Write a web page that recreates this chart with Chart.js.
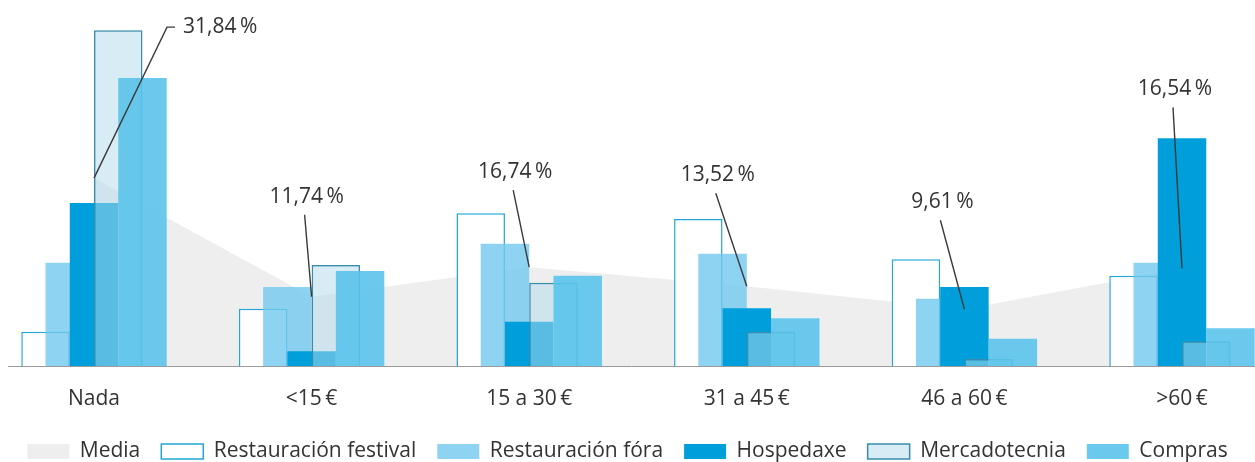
<!DOCTYPE html>
<html lang="gl">
<head>
<meta charset="utf-8">
<title>Gasto por categoría</title>
<script src="https://cdn.jsdelivr.net/npm/chart.js@4.4.0/dist/chart.umd.min.js"></script>
<style>
  html, body { margin: 0; padding: 0; background: #fff; }
  #wrap { position: relative; width: 1255px; height: 462px; }
</style>
</head>
<body>
<div id="wrap"><canvas id="gasto"></canvas></div>
<script>
"use strict";

// categories
const categories = ["Nada", "<15\u2009€", "15 a 30\u2009€", "31 a 45\u2009€", "46 a 60\u2009€", ">60\u2009€"];

// series values (%)
const media = [31.84, 11.74, 16.74, 13.52, 9.61, 16.54];
const restauracionFestival = [5.8, 9.7, 25.9, 24.9, 18.1, 15.3];
const restauracionFora = [17.5, 13.4, 20.7, 19.0, 11.4, 17.5];
const hospedaxe = [27.6, 2.5, 7.5, 9.8, 13.4, 38.6];
const mercadotecnia = [56.9, 17.1, 14.1, 5.8, 1.2, 4.2];
const compras = [48.8, 16.1, 15.3, 8.1, 4.6, 6.4];

// where each media label's leader line ends, relative to its point (px)
const labelOffsets = [[73, -151], [-7, -82], [-16, -77], [-31, -93], [-24, -89], [-9, -161]];

Chart.defaults.font.family = "'Open Sans', sans-serif";
Chart.defaults.color = "#333";

// draw the datasets in index order, so later series sit on top
const drawOrder = {
  id: "drawOrder",
  beforeDatasetsDraw(chart) {
    for (let i = 0; i < chart.data.datasets.length; i++) {
      const meta = chart.getDatasetMeta(i);
      if (meta.visible) meta.controller.draw();
    }
    return false;
  }
};

// baseline across the whole width + media labels with leader lines
const extras = {
  id: "extras",
  afterDraw(chart) {
    const ctx = chart.ctx;
    const xs = chart.scales.x;
    const ys = chart.scales.y;
    const y0 = Math.round(ys.getPixelForValue(0)) + 0.5;

    ctx.save();
    ctx.strokeStyle = "#9b9b9b";
    ctx.lineWidth = 1;
    ctx.beginPath();
    ctx.moveTo(8, y0);
    ctx.lineTo(chart.width, y0);
    ctx.stroke();

    ctx.strokeStyle = "#3a3a3a";
    ctx.lineWidth = 1.4;
    ctx.fillStyle = "#333";
    ctx.font = "21px 'Open Sans', sans-serif";
    ctx.textBaseline = "middle";
    media.forEach(function (v, i) {
      const px = xs.getPixelForValue(i);
      const py = ys.getPixelForValue(v);
      const ex = px + labelOffsets[i][0];
      const ey = py + labelOffsets[i][1];
      const text = v.toFixed(2).replace(".", ",") + "\u2009%";
      ctx.beginPath();
      ctx.moveTo(px, py);
      ctx.lineTo(ex, ey);
      if (i === 0) {
        ctx.lineTo(ex + 8, ey);
        ctx.stroke();
        ctx.textAlign = "left";
        ctx.fillText(text, ex + 16, ey);
      } else {
        ctx.stroke();
        ctx.textAlign = "center";
        ctx.fillText(text, ex + 2, ey - 18);
      }
    });
    ctx.restore();
  }
};

new Chart(document.getElementById("gasto"), {
  type: "bar",
  data: {
    labels: categories,
    datasets: [
      {
        type: "line",
        label: "Media",
        data: media,
        fill: "origin",
        backgroundColor: "#eeeeee",
        borderColor: "rgba(0,0,0,0)",
        borderWidth: 0,
        pointRadius: 0,
        tension: 0
      },
      {
        label: "Restauración festival",
        data: restauracionFestival,
        backgroundColor: "#ffffff",
        borderColor: "#23a6d5",
        borderWidth: 1.5
      },
      {
        label: "Restauración fóra",
        data: restauracionFora,
        backgroundColor: "rgba(114,200,238,0.8)"
      },
      {
        label: "Hospedaxe",
        data: hospedaxe,
        backgroundColor: "#009fdb"
      },
      {
        label: "Mercadotecnia",
        data: mercadotecnia,
        backgroundColor: "rgba(177,217,235,0.5)",
        borderColor: "#3a8cad",
        borderWidth: 1.5
      },
      {
        label: "Compras",
        data: compras,
        backgroundColor: "rgba(90,195,235,0.9)"
      }
    ]
  },
  options: {
    responsive: true,
    maintainAspectRatio: false,
    animation: false,
    layout: { padding: { top: 6 } },
    datasets: {
      bar: { categoryPercentage: 0.557, barPercentage: 2 }
    },
    scales: {
      x: {
        offset: false,
        grid: { display: false },
        border: { display: false },
        ticks: { color: "#333", font: { size: 21 }, padding: 12, maxRotation: 0, autoSkip: false },
        afterFit: function (scale) { scale.height = 54; }
      },
      y: {
        min: 0,
        max: 61,
        position: "left",
        ticks: { display: false },
        grid: { display: false },
        border: { display: false },
        afterFit: function (scale) { scale.width = 94; }
      },
      yRight: {
        position: "right",
        ticks: { display: false },
        grid: { display: false },
        border: { display: false },
        afterFit: function (scale) { scale.width = 73; }
      }
    },
    plugins: {
      filler: { drawTime: "beforeDatasetsDraw" },
      tooltip: { enabled: false },
      legend: {
        position: "bottom",
        maxHeight: 42,
        labels: {
          boxWidth: 42,
          boxHeight: 15,
          padding: 21,
          color: "#333",
          font: { size: 21 }
        }
      }
    }
  },
  plugins: [drawOrder, extras]
});
</script>
</body>
</html>
